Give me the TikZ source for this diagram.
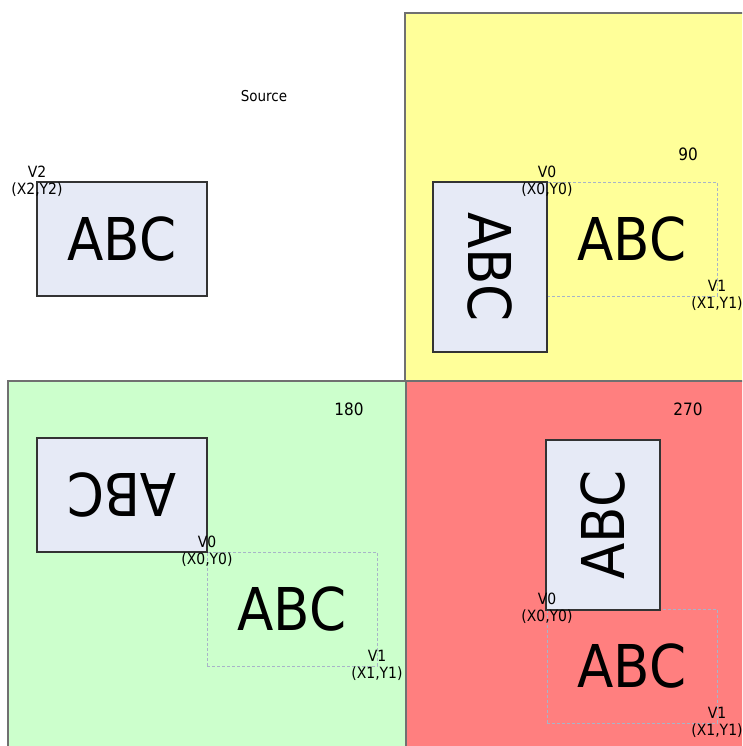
\documentclass[tikz,border=0pt]{standalone}
\usepackage{fontspec}
\setmainfont{DejaVu Sans Condensed}
\definecolor{ylw}{HTML}{FFFF99}
\definecolor{grn}{HTML}{CCFFCC}
\definecolor{rd}{HTML}{FF7F7F}
\definecolor{boxfill}{HTML}{E6EAF6}
\definecolor{panelline}{HTML}{707070}
\definecolor{dashline}{HTML}{A8B4C8}
\tikzset{
  panel/.style={draw=panelline, line width=1.6pt},
  abcbox/.style={draw=black!80, fill=boxfill, line width=1.2pt, inner sep=0pt,
     minimum width=170pt, minimum height=114pt, font=\fontsize{59}{59}\selectfont},
  ghost/.style={draw=dashline, dashed, dash pattern=on 3pt off 2pt, line width=0.6pt, inner sep=0pt,
     minimum width=170pt, minimum height=114pt, font=\fontsize{59}{59}\selectfont},
  vlabel/.style={align=center, inner sep=0pt, font=\fontsize{15.5}{17}\selectfont},
  anglelabel/.style={inner sep=0pt, font=\fontsize{17}{17}\selectfont},
}
\begin{document}
\begin{tikzpicture}[x=1pt,y=-1pt]
\useasboundingbox (0,0) rectangle (742,746);
\clip (0,0) rectangle (742,746);
% panels
\fill[ylw] (405,13) rectangle (760,381);
\draw[panel] (760,13) -- (405,13) -- (405,381);
\fill[grn] (8,381) rectangle (406,760);
\draw[panel] (8,760) -- (8,381) -- (406,381) -- (406,760);
\fill[rd] (406,381) rectangle (760,760);
\draw[panel] (406,381) -- (760,381);
\draw[panel] (406,381) -- (406,760);
% source
\node[inner sep=0pt, font=\fontsize{15}{15}\selectfont] (srctitle) at (264,96) {Source};
\node[abcbox] (src) at (122,239) {ABC};
\node[vlabel] (v2) at (37,181) {V2\\(X2,Y2)};
% 90
\node[anglelabel] (a90) at (688,154) {90};
\node[ghost] (g90) at (632,239) {ABC};
\node[abcbox, rotate=-90] (b90) at (490,267) {ABC};
\node[vlabel] (v0a) at (547,181) {V0\\(X0,Y0)};
\node[vlabel] (v1a) at (717,295) {V1\\(X1,Y1)};
% 180
\node[anglelabel] (a180) at (349,409) {180};
\node[ghost] (g180) at (292,609) {ABC};
\node[abcbox, rotate=180] (b180) at (122,495) {ABC};
\node[vlabel] (v0b) at (207,551) {V0\\(X0,Y0)};
\node[vlabel] (v1b) at (377,665) {V1\\(X1,Y1)};
% 270
\node[anglelabel] (a270) at (688,409) {270};
\node[ghost] (g270) at (632,666) {ABC};
\node[abcbox, rotate=90] (b270) at (603,525) {ABC};
\node[vlabel] (v0c) at (547,608) {V0\\(X0,Y0)};
\node[vlabel] (v1c) at (717,722) {V1\\(X1,Y1)};
\end{tikzpicture}
\end{document}
